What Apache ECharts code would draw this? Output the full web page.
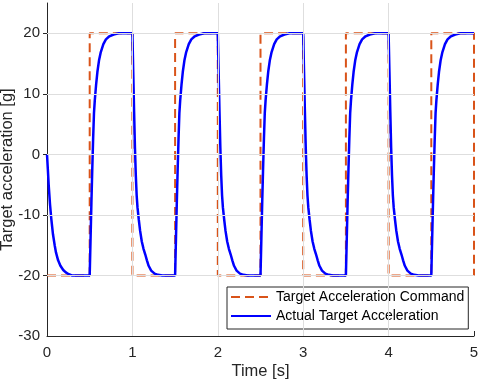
<!DOCTYPE html>
<html>
<head>
<meta charset="utf-8">
<script src="https://cdn.jsdelivr.net/npm/echarts@6/dist/echarts.min.js"></script>
<style>html,body{margin:0;padding:0;background:#fff}#c{width:480px;height:384px}</style>
</head>
<body>
<div id="c"></div>
<script>
// Target acceleration command (square wave), time [s] and value [g]
var cmdTime  = [0, 0.5, 0.5, 1, 1, 1.5, 1.5, 2, 2, 2.5, 2.5, 3, 3, 3.5, 3.5, 4, 4, 4.5, 4.5, 5, 5];
var cmdAccel = [-20, -20, 20, 20, -20, -20, 20, 20, -20, -20, 20, 20, -20, -20, 20, 20, -20, -20, 20, 20, -20];

// Actual target acceleration
var actualTime = [
  0, 0.01, 0.02, 0.035, 0.05, 0.07, 0.09, 0.105, 0.13, 0.157, 0.19, 0.22, 0.255, 0.29,
  0.5, 0.51, 0.52, 0.53, 0.54, 0.55, 0.56, 0.575, 0.59, 0.61, 0.63, 0.66, 0.69, 0.73, 0.78, 0.84,
  1.0, 1.01, 1.02, 1.03, 1.04, 1.05, 1.06, 1.075, 1.09, 1.11, 1.13, 1.15, 1.17, 1.19, 1.22, 1.26, 1.30, 1.35,
  1.5, 1.51, 1.52, 1.53, 1.54, 1.55, 1.56, 1.575, 1.59, 1.61, 1.63, 1.66, 1.69, 1.73, 1.78, 1.84,
  2.0, 2.01, 2.02, 2.03, 2.04, 2.05, 2.06, 2.075, 2.09, 2.11, 2.13, 2.15, 2.17, 2.19, 2.22, 2.26, 2.30, 2.35,
  2.5, 2.51, 2.52, 2.53, 2.54, 2.55, 2.56, 2.575, 2.59, 2.61, 2.63, 2.66, 2.69, 2.73, 2.78, 2.84,
  3.0, 3.01, 3.02, 3.03, 3.04, 3.05, 3.06, 3.075, 3.09, 3.11, 3.13, 3.15, 3.17, 3.19, 3.22, 3.26, 3.30, 3.35,
  3.5, 3.51, 3.52, 3.53, 3.54, 3.55, 3.56, 3.575, 3.59, 3.61, 3.63, 3.66, 3.69, 3.73, 3.78, 3.84,
  4.0, 4.01, 4.02, 4.03, 4.04, 4.05, 4.06, 4.075, 4.09, 4.11, 4.13, 4.15, 4.17, 4.19, 4.22, 4.26, 4.30, 4.35,
  4.5, 4.51, 4.52, 4.53, 4.54, 4.55, 4.56, 4.575, 4.59, 4.61, 4.63, 4.66, 4.69, 4.73, 4.78, 4.84,
  5.0
];
var actualAccel = [
  0, -2.5, -5.1, -8.2, -10.6, -13.2, -15.0, -16.2, -17.5, -18.4, -19.1, -19.5, -19.8, -20,
  -20, -14, -8, -2.5, 2.5, 6.8, 9.0, 11.5, 13.6, 15.6, 16.9, 18.2, 19.0, 19.5, 19.8, 20,
  20, 13.5, 7, 1, -3.5, -6.8, -8.8, -10.8, -12.6, -14.4, -15.6, -16.5, -17.5, -18.4, -19.2, -19.7, -19.9, -20,
  -20, -14, -8, -2.5, 2.5, 6.8, 9.0, 11.5, 13.6, 15.6, 16.9, 18.2, 19.0, 19.5, 19.8, 20,
  20, 13.5, 7, 1, -3.5, -6.8, -8.8, -10.8, -12.6, -14.4, -15.6, -16.5, -17.5, -18.4, -19.2, -19.7, -19.9, -20,
  -20, -14, -8, -2.5, 2.5, 6.8, 9.0, 11.5, 13.6, 15.6, 16.9, 18.2, 19.0, 19.5, 19.8, 20,
  20, 13.5, 7, 1, -3.5, -6.8, -8.8, -10.8, -12.6, -14.4, -15.6, -16.5, -17.5, -18.4, -19.2, -19.7, -19.9, -20,
  -20, -14, -8, -2.5, 2.5, 6.8, 9.0, 11.5, 13.6, 15.6, 16.9, 18.2, 19.0, 19.5, 19.8, 20,
  20, 13.5, 7, 1, -3.5, -6.8, -8.8, -10.8, -12.6, -14.4, -15.6, -16.5, -17.5, -18.4, -19.2, -19.7, -19.9, -20,
  -20, -14, -8, -2.5, 2.5, 6.8, 9.0, 11.5, 13.6, 15.6, 16.9, 18.2, 19.0, 19.5, 19.8, 20,
  20
];

var xTicks = [0, 1, 2, 3, 4, 5];
var yTicks = [-30, -20, -10, 0, 10, 20];
var xGrid = [1, 2, 3, 4];
var yGrid = [-20, -10, 0, 10, 20];

function zip(a, b) { return a.map(function (v, i) { return [v, b[i]]; }); }

var font = 'Liberation Sans, Arial, Helvetica, sans-serif';
var axisColor = '#262626';

var gridMarks = xGrid.map(function (v) { return { xAxis: v }; })
  .concat(yGrid.map(function (v) { return { yAxis: v }; }));

var chart = echarts.init(document.getElementById('c'), null, { renderer: 'canvas' });
chart.setOption({
  animation: false,
  backgroundColor: '#fff',
  textStyle: { fontFamily: font },
  grid: { left: 47, right: 6, top: 3, bottom: 48, containLabel: false, outerBoundsMode: 'none' },
  xAxis: [{
    type: 'value', min: 0, max: 5, interval: 1,
    name: 'Time [s]', nameLocation: 'middle', nameGap: 27, nameMoveOverlap: false,
    nameTextStyle: { fontSize: 16.5, color: axisColor, fontFamily: font },
    axisLine: { show: true, onZero: false, lineStyle: { color: axisColor, width: 1 } },
    axisTick: { show: true, inside: true, length: 5, customValues: xTicks, lineStyle: { color: axisColor } },
    axisLabel: { show: true, margin: 9, fontSize: 15, color: axisColor, fontFamily: font, customValues: xTicks },
    splitLine: { show: false }
  }, {
    type: 'value', min: 0, max: 5, interval: 1, position: 'top',
    axisLine: { show: false },
    axisTick: { show: true, inside: true, length: 4, customValues: xGrid, lineStyle: { color: axisColor } },
    axisLabel: { show: false },
    splitLine: { show: false }
  }],
  yAxis: [{
    type: 'value', min: -30, max: 25, interval: 10,
    name: 'Target acceleration [g]', nameLocation: 'middle', nameGap: 31, nameMoveOverlap: false,
    nameTextStyle: { fontSize: 16.5, color: axisColor, fontFamily: font },
    axisLine: { show: true, onZero: false, lineStyle: { color: axisColor, width: 1 } },
    axisTick: { show: true, inside: true, length: 5, customValues: yTicks, lineStyle: { color: axisColor } },
    axisLabel: { show: true, margin: 7, fontSize: 15, color: axisColor, fontFamily: font, customValues: yTicks },
    splitLine: { show: false }
  }, {
    type: 'value', min: -30, max: 25, interval: 10, position: 'right',
    axisLine: { show: false },
    axisTick: { show: true, inside: true, length: 4, customValues: yGrid, lineStyle: { color: axisColor } },
    axisLabel: { show: false },
    splitLine: { show: false }
  }],
  legend: {
    orient: 'vertical',
    left: 227, top: 287,
    backgroundColor: '#fff',
    borderColor: axisColor, borderWidth: 1, borderRadius: 0,
    padding: [3, 4, 6, 3],
    itemWidth: 40, itemHeight: 14, itemGap: 5,
    itemStyle: { opacity: 0 },
    textStyle: { fontSize: 14, color: '#000', fontFamily: font },
    data: ['Target Acceleration Command', 'Actual Target Acceleration']
  },
  series: [{
    type: 'line', name: 'gridlines', data: [], silent: true, z: 1,
    markLine: {
      silent: true, symbol: 'none', label: { show: false },
      lineStyle: { color: '#dedede', width: 1, type: 'solid' },
      data: gridMarks
    }
  }, {
    type: 'line', name: 'Target Acceleration Command', z: 3,
    data: zip(cmdTime, cmdAccel),
    showSymbol: false, symbol: 'none',
    lineStyle: { color: '#D95319', width: 2, type: [9, 5] },
    itemStyle: { color: '#D95319' }
  }, {
    type: 'line', name: 'Actual Target Acceleration', z: 4,
    data: zip(actualTime, actualAccel),
    showSymbol: false, symbol: 'none',
    lineStyle: { color: '#0000FF', width: 2.5 },
    itemStyle: { color: '#0000FF' }
  }]
});
</script>
</body>
</html>
